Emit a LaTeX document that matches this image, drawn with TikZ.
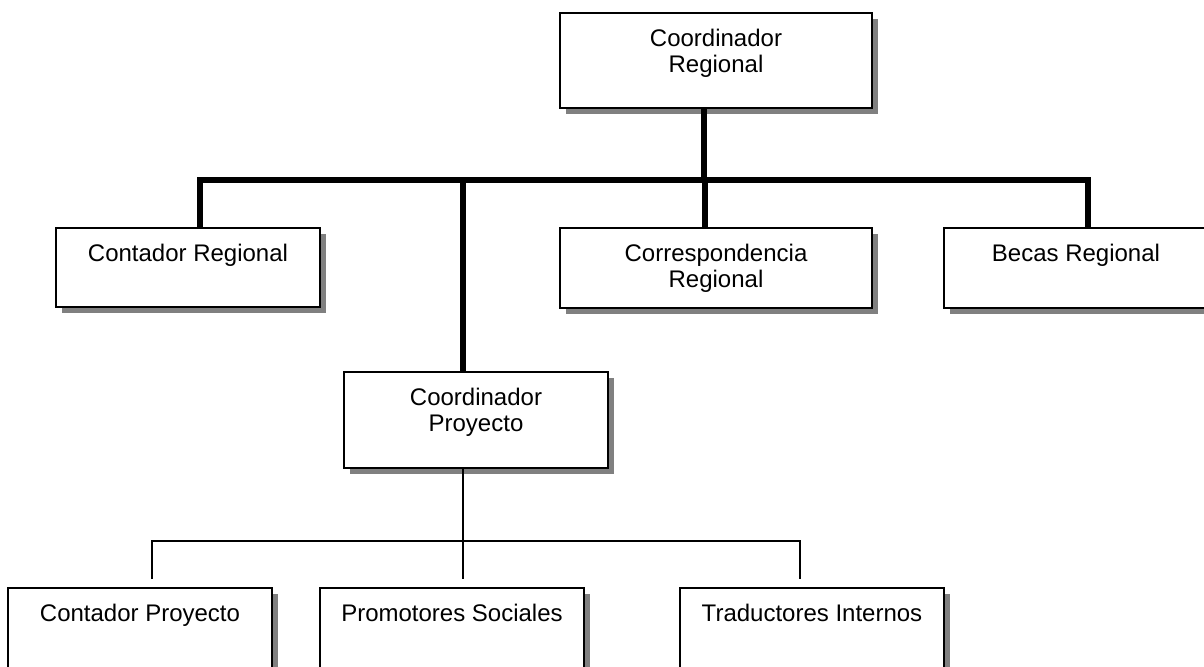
\documentclass[tikz,border=0pt]{standalone}
\usepackage{fontspec}
\setmainfont{Liberation Sans}
\usepackage{tikz}
\usetikzlibrary{positioning, shadows}
\tikzset{
  unit/.style={draw, line width=1pt, fill=white, inner sep=0pt,
    drop shadow={shadow xshift=3pt, shadow yshift=-3pt, fill=black!50, opacity=1}},
  wide/.style={unit, minimum width=156pt},
  narrow/.style={unit, minimum width=132pt},
  caption/.style={inner sep=0pt, outer sep=0pt, align=center, font=\fontsize{12}{13}\selectfont},
  trunk/.style={line width=3pt},
  branch/.style={line width=1pt}
}

\begin{document}
\begin{tikzpicture}[x=0.5pt, y=-0.5pt]
\useasboundingbox (0,0) rectangle (1204,667);
% top level
\node[wide, minimum height=47.5pt] (creg) at (716,60.5) {};
\node[caption, below=8.4pt of creg.north] (cregt) {Coordinador\\Regional};
% second level
\node[narrow, minimum height=39.5pt] (cont) at (188,267.5) {};
\node[caption, below=8.4pt of cont.north] (contt) {Contador Regional};
\node[wide, minimum height=40pt] (corr) at (716,268) {};
\node[caption, below=8.4pt of corr.north] (corrt) {Correspondencia\\Regional};
\node[wide, minimum height=40pt] (becas) at (1100,268) {};
\node[caption, below=8.4pt of becas.north, xshift=-12pt] (becast) {Becas Regional};
\node[narrow, minimum height=48pt] (cproy) at (476,420) {};
\node[caption, below=8.4pt of cproy.north] (cproyt) {Coordinador\\Proyecto};
% project staff
\node[narrow, minimum height=40pt] (contp) at (140,628) {};
\node[caption, below=8.4pt of contp.north] (contpt) {Contador Proyecto};
\node[narrow, minimum height=40pt] (promo) at (452,628) {};
\node[caption, below=8.4pt of promo.north] (promot) {Promotores Sociales};
\node[narrow, minimum height=40pt] (trad) at (812,628) {};
\node[caption, below=8.4pt of trad.north] (tradt) {Traductores Internos};
% connectors
\coordinate (bus) at (0,180);
\coordinate (sub) at (0,541);
\draw[trunk] ([xshift=-6pt]creg.south) -- ([xshift=-6pt]creg.south |- bus);
\draw[trunk] ([xshift=6pt]cont.north) |- ([xshift=-6pt]becas.north |- bus) -- ([xshift=-6pt]becas.north);
\draw[trunk] ([xshift=-5.5pt]corr.north) -- ([xshift=-5.5pt]corr.north |- bus);
\draw[trunk] ([xshift=-6.5pt]cproy.north) -- ([xshift=-6.5pt]cproy.north |- bus);
\draw[branch] ([xshift=-6.5pt]cproy.south) -- ([xshift=5.5pt,yshift=4pt]promo.north);
\draw[branch] ([xshift=6pt,yshift=4pt]contp.north) |- ([xshift=-6pt]trad.north |- sub) -- ([xshift=-6pt,yshift=4pt]trad.north);
\end{tikzpicture}
\end{document}
